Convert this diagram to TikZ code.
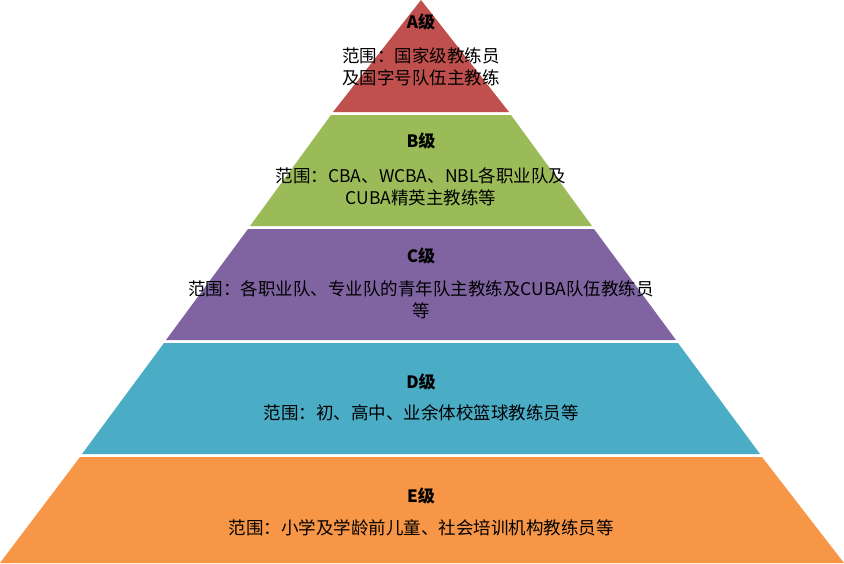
\documentclass[tikz,border=0pt]{standalone}
\usepackage{fontspec}
\setmainfont{Noto Sans CJK SC}
\begin{document}
\begin{tikzpicture}[x=1pt,y=-1pt,
    levelname/.style={font=\fontsize{17}{22}\selectfont\bfseries},
    scopetext/.style={font=\fontsize{17.5}{22}\selectfont,align=center,inner sep=0pt}]
    \definecolor{layerA}{HTML}{C0504D}
    \definecolor{layerB}{HTML}{9BBB59}
    \definecolor{layerC}{HTML}{8064A2}
    \definecolor{layerD}{HTML}{4BACC6}
    \definecolor{layerE}{HTML}{F79646}
    \useasboundingbox (0,0) rectangle (844,563);

    % Layers of the pyramid:
    \fill[layerA] (421,0) -- (509,112) -- (333,112) -- cycle;
    \fill[layerB] (331,115) -- (511,115) -- (592,226) -- (250,226) -- cycle;
    \fill[layerC] (248,229) -- (594,229) -- (676,340) -- (166,340) -- cycle;
    \fill[layerD] (164,343) -- (678,343) -- (760,454) -- (82,454) -- cycle;
    \fill[layerE] (80,457) -- (762,457) -- (844,563) -- (0,563) -- cycle;

    % Texts:
    \node[levelname] (a) at (421,22) {A级};
    \node[scopetext] (as) at (421,67) {范围：国家级教练员\\及国字号队伍主教练};
    \node[levelname] (b) at (421,141) {B级};
    \node[scopetext] (bs) at (421,187) {范围：CBA、WCBA、NBL各职业队及\\CUBA精英主教练等};
    \node[levelname] (c) at (421,256) {C级};
    \node[scopetext] (cs) at (421,300) {范围：各职业队、专业队的青年队主教练及CUBA队伍教练员\\等};
    \node[levelname] (d) at (421,382) {D级};
    \node[scopetext] (ds) at (421,413) {范围：初、高中、业余体校篮球教练员等};
    \node[levelname] (e) at (421,496) {E级};
    \node[scopetext] (es) at (421,528) {范围：小学及学龄前儿童、社会培训机构教练员等};
\end{tikzpicture}
\end{document}
